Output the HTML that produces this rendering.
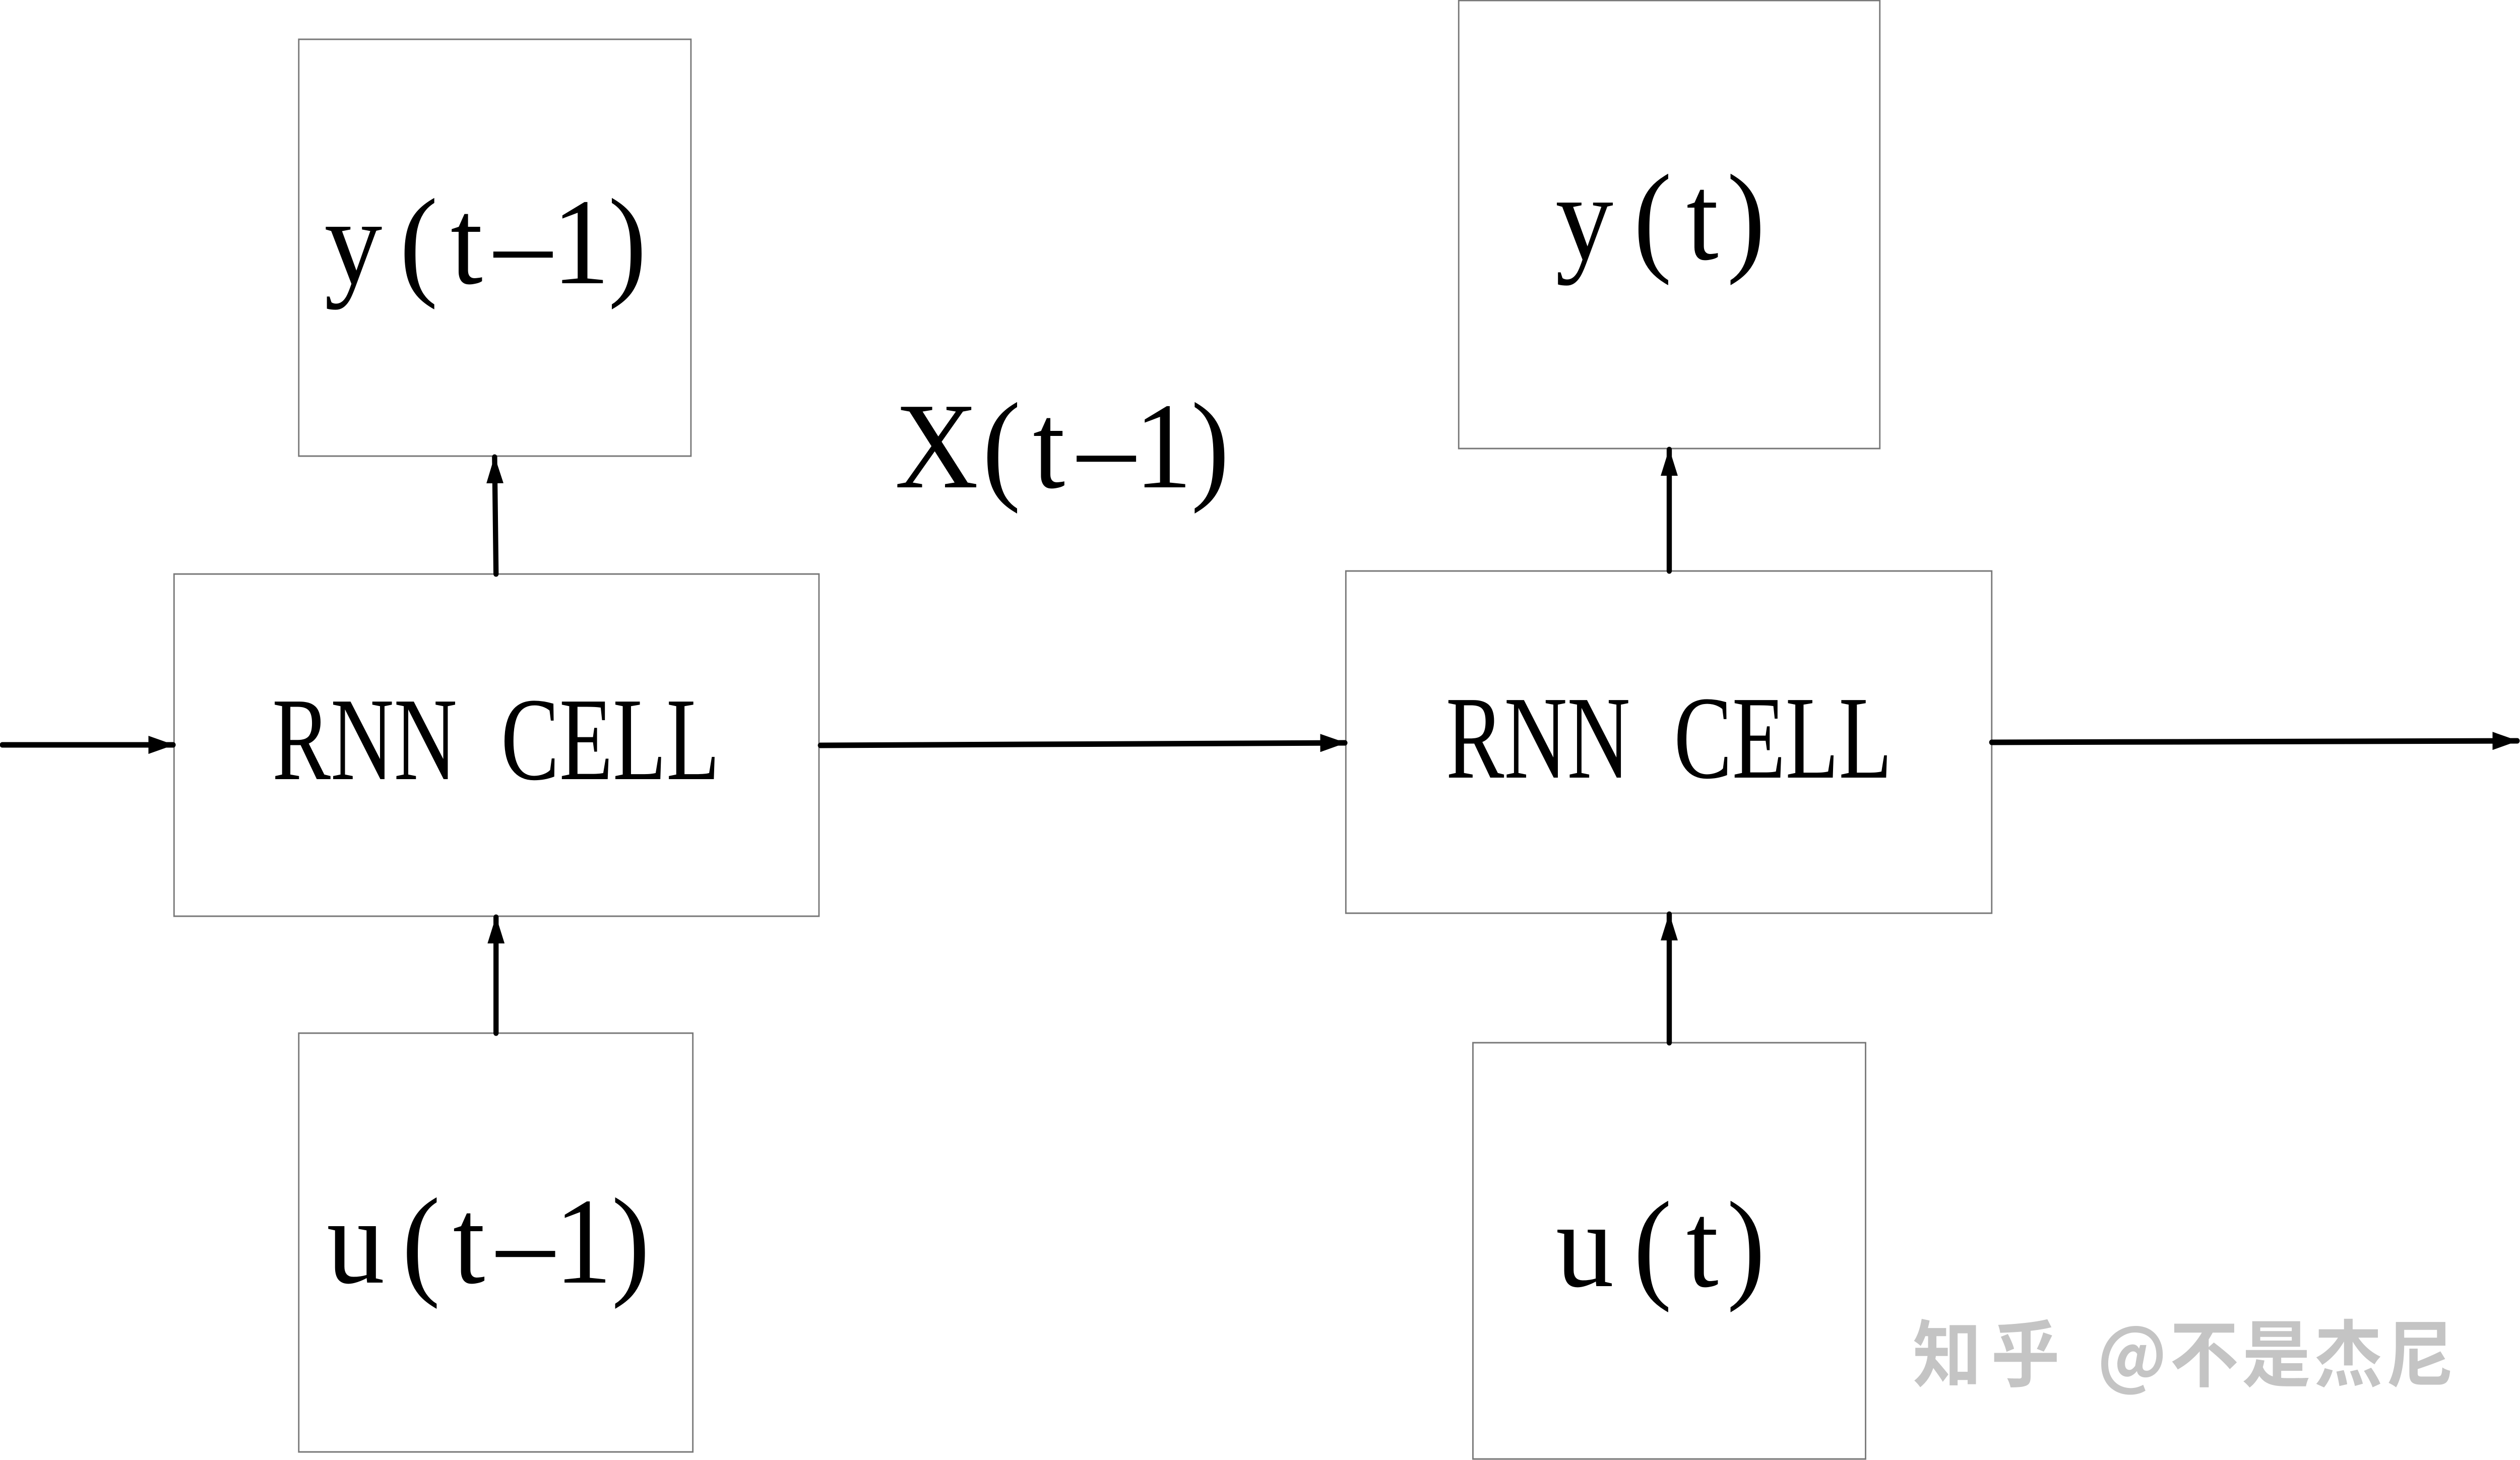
<!DOCTYPE html>
<html><head><meta charset="utf-8"><style>html,body{margin:0;padding:0;background:#fff;width:100%;height:100%;overflow:hidden}svg{display:block;width:100vw;height:100vh}</style></head>
<body>
<svg viewBox="0 0 5314 2897" preserveAspectRatio="none" xmlns="http://www.w3.org/2000/svg">
<defs>
<marker id="ah" markerUnits="userSpaceOnUse" markerWidth="56" markerHeight="36" refX="52" refY="18" orient="auto">
<path d="M0,0 L54,18 L0,36 Z" fill="#000"/>
</marker>
</defs>
<g fill="none" stroke="#777" stroke-width="3">
<rect x="630" y="78" width="827" height="827"/>
<rect x="367" y="1139" width="1360" height="679"/>
<rect x="630" y="2050" width="831" height="831"/>
<rect x="3076" y="1" width="888" height="889"/>
<rect x="2838" y="1133" width="1362" height="679"/>
<rect x="3106" y="2069" width="828" height="826"/>
</g>
<g stroke="#000" stroke-width="11" stroke-linecap="round" fill="none">
<line x1="5" y1="1478" x2="365" y2="1478" marker-end="url(#ah)"/>
<line x1="1046" y1="1139" x2="1043" y2="907" marker-end="url(#ah)"/>
<line x1="1046" y1="2050" x2="1046" y2="1820" marker-end="url(#ah)"/>
<line x1="1730" y1="1479" x2="2836" y2="1474" marker-end="url(#ah)"/>
<line x1="3520" y1="1133" x2="3520" y2="892" marker-end="url(#ah)"/>
<line x1="3520" y1="2069" x2="3520" y2="1814" marker-end="url(#ah)"/>
<line x1="4200" y1="1473" x2="5308" y2="1470" marker-end="url(#ah)"/>
</g>
<g font-family="Liberation Serif, serif" fill="#000" font-size="244" text-anchor="middle">
<text y="562"><tspan x="745">y</tspan><tspan x="883">(</tspan><tspan x="984">t</tspan><tspan x="1103">–</tspan><tspan x="1225">1</tspan><tspan x="1323">)</tspan></text>
<text y="967"><tspan x="1975">X</tspan><tspan x="2112">(</tspan><tspan x="2212">t</tspan><tspan x="2333">–</tspan><tspan x="2453">1</tspan><tspan x="2552">)</tspan></text>
<text y="2545"><tspan x="750">u</tspan><tspan x="888">(</tspan><tspan x="989">t</tspan><tspan x="1108">–</tspan><tspan x="1230">1</tspan><tspan x="1330">)</tspan></text>
<text y="514"><tspan x="3341">y</tspan><tspan x="3485">(</tspan><tspan x="3590">t</tspan><tspan x="3682">)</tspan></text>
<text y="2552"><tspan x="3342">u</tspan><tspan x="3485">(</tspan><tspan x="3590">t</tspan><tspan x="3682">)</tspan></text>
</g>
<g font-family="Liberation Serif, serif" fill="#000" font-size="235">
<text x="574" y="1546" textLength="944" lengthAdjust="spacingAndGlyphs">RNN&#160;&#160;CELL</text>
<text x="3049" y="1543" textLength="941" lengthAdjust="spacingAndGlyphs">RNN&#160;&#160;CELL</text>
</g>
<g font-family="Noto Sans CJK SC, sans-serif" font-size="145" font-weight="bold" fill="#c4c4c4" text-anchor="middle">
<text y="2740"><tspan x="4106">知</tspan><tspan x="4271">乎</tspan><tspan x="4496">@</tspan><tspan x="4648">不</tspan><tspan x="4800">是</tspan><tspan x="4952">杰</tspan><tspan x="5103">尼</tspan></text>
</g>
</svg>
</body></html>
